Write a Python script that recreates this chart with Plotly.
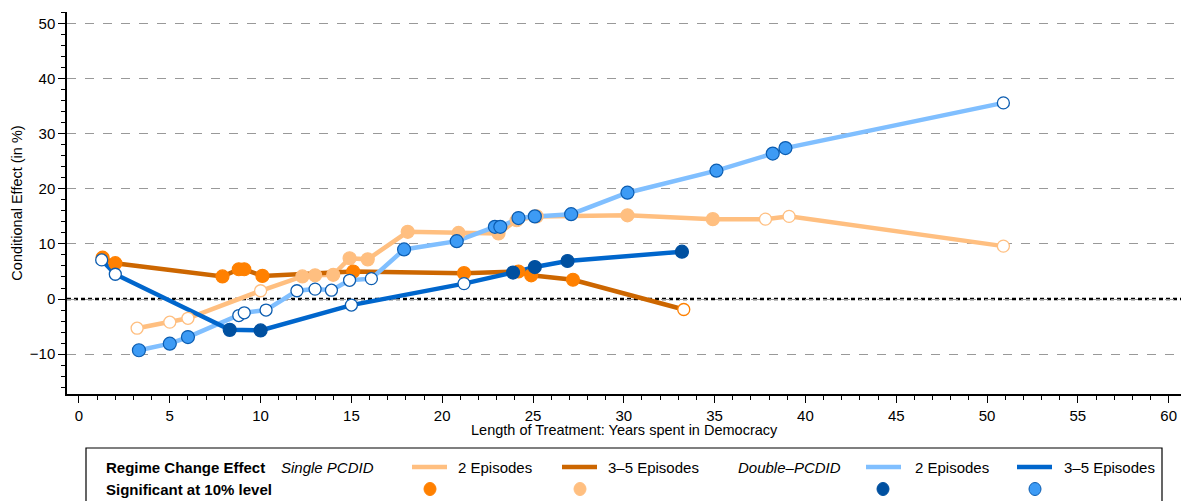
import plotly.graph_objects as go

# ---------------- data ----------------
# Single PCDID, 2 episodes
sp2_x = [3.2, 5.0, 6.0, 10.0, 12.3, 13.0, 14.0, 14.9, 15.9, 18.1, 20.9, 23.1, 24.1, 25.2, 30.2, 34.9, 37.8, 39.1, 50.9]
sp2_y = [-5.3, -4.2, -3.5, 1.5, 4.1, 4.3, 4.4, 7.4, 7.2, 12.2, 12.0, 11.9, 14.3, 15.0, 15.2, 14.5, 14.5, 15.0, 9.6]
sp2_sig = [0, 0, 0, 0, 1, 1, 1, 1, 1, 1, 1, 1, 1, 1, 1, 1, 0, 0, 0]

# Single PCDID, 3-5 episodes
sp35_x = [1.3, 2.0, 7.9, 8.8, 9.1, 10.1, 15.1, 21.2, 24.2, 24.9, 27.2, 33.3]
sp35_y = [7.5, 6.5, 4.1, 5.4, 5.4, 4.2, 5.0, 4.7, 5.0, 4.3, 3.5, -1.9]
sp35_sig = [1, 1, 1, 1, 1, 1, 1, 1, 1, 1, 1, 0]

# Double PCDID, 2 episodes
dp2_x = [3.3, 5.0, 6.0, 8.8, 9.1, 10.3, 12.0, 13.0, 13.9, 14.9, 16.1, 17.9, 20.8, 22.9, 23.2, 24.2, 25.1, 27.1, 30.2, 35.1, 38.2, 38.9, 50.9]
dp2_y = [-9.3, -8.1, -6.9, -3.0, -2.5, -2.0, 1.5, 1.8, 1.6, 3.4, 3.7, 9.0, 10.5, 13.1, 13.1, 14.7, 15.0, 15.4, 19.3, 23.3, 26.4, 27.4, 35.6]
dp2_sig = [1, 1, 1, 0, 0, 0, 0, 0, 0, 0, 0, 1, 1, 1, 1, 1, 1, 1, 1, 1, 1, 1, 0]

# Double PCDID, 3-5 episodes
dp35_x = [1.25, 2.0, 8.3, 10.0, 15.0, 21.2, 23.9, 25.1, 26.9, 33.2]
dp35_y = [7.1, 4.5, -5.6, -5.7, -1.1, 2.8, 4.8, 5.8, 6.9, 8.6]
dp35_sig = [0, 0, 1, 1, 0, 0, 1, 1, 1, 1]

x_ticks = list(range(0, 61, 5))
y_ticks = [-10, 0, 10, 20, 30, 40, 50]

# ---------------- styles ----------------
series = [
    dict(x=sp2_x, y=sp2_y, sig=sp2_sig, line="#FFBF80", fill="#FFBF80", edge="#FFBF80", open_edge="#FFBF80"),
    dict(x=sp35_x, y=sp35_y, sig=sp35_sig, line="#CC6600", fill="#FF8000", edge="#FF8000", open_edge="#FF8000"),
    dict(x=dp2_x, y=dp2_y, sig=dp2_sig, line="#80BFFF", fill="#3D9BF5", edge="#0B5CB0", open_edge="#0B5CB0"),
    dict(x=dp35_x, y=dp35_y, sig=dp35_sig, line="#0066CC", fill="#0050A0", edge="#0050A0", open_edge="#0B5CB0"),
]

fig = go.Figure()

for s in series:
    fig.add_trace(go.Scatter(x=s["x"], y=s["y"], mode="lines",
                             line=dict(color=s["line"], width=4.5),
                             showlegend=False, hoverinfo="skip"))

for s in series:
    xs = [xv for xv, g in zip(s["x"], s["sig"]) if g]
    ys = [yv for yv, g in zip(s["y"], s["sig"]) if g]
    xo = [xv for xv, g in zip(s["x"], s["sig"]) if not g]
    yo = [yv for yv, g in zip(s["y"], s["sig"]) if not g]
    fig.add_trace(go.Scatter(x=xo, y=yo, mode="markers",
                             marker=dict(size=12, color="white", line=dict(color=s["open_edge"], width=1.3)),
                             showlegend=False))
    fig.add_trace(go.Scatter(x=xs, y=ys, mode="markers",
                             marker=dict(size=13, color=s["fill"], line=dict(color=s["edge"], width=1.2)),
                             showlegend=False))

# zero reference line
fig.add_shape(type="line", xref="paper", x0=0, x1=1, yref="y", y0=0, y1=0,
              line=dict(color="black", width=2.7, dash="4px,3px"), layer="below")

FONT = "Liberation Sans, Arial, sans-serif"

fig.update_layout(
    width=1181, height=501,
    margin=dict(l=67, r=0, t=12, b=107),
    plot_bgcolor="white", paper_bgcolor="white",
    font=dict(family=FONT, color="black", size=15),
    xaxis=dict(range=[-0.66, 60.68], tickvals=x_ticks, ticks="outside", ticklen=7,
               tickcolor="black", showline=True, linecolor="black", linewidth=1.5,
               showgrid=False, zeroline=False, tickfont=dict(size=15), automargin=False,
               minor=dict(dtick=1, ticks="outside", ticklen=4, tickcolor="black")),
    yaxis=dict(range=[-17.24, 52.1], tickvals=y_ticks, ticks="outside", ticklen=7,
               tickcolor="black", showline=True, linecolor="black", linewidth=1.5,
               showgrid=True, gridcolor="#999999", griddash="dash", gridwidth=1,
               zeroline=False, tickfont=dict(size=15), automargin=False,
               minor=dict(dtick=2, ticks="outside", ticklen=4, tickcolor="black", showgrid=False),
               title=dict(text="Conditional Effect (in %)", font=dict(size=14.5), standoff=4)),
)

# ---------------- legend box (paper coords from pixel layout) ----------------
PL, PR, PT, PB = 67, 1181, 12, 394
def px(p):
    return (p - PL) / (PR - PL)
def py(p):
    return (PB - p) / (PB - PT)

# x-axis title
fig.add_annotation(xref="paper", yref="paper", x=px(624), y=py(430),
                   text="Length of Treatment: Years spent in Democracy", showarrow=False,
                   xanchor="center", yanchor="middle", font=dict(size=14.5, family=FONT))

fig.add_shape(type="rect", xref="paper", yref="paper",
              x0=px(86), x1=px(1162), y0=py(448), y1=py(520),
              line=dict(color="black", width=1.2), fillcolor="white", layer="above")

row1, row2 = 467, 489
texts = [
    (106, row1, "<b>Regime Change Effect</b>"),
    (281, row1, "<i>Single PCDID</i>"),
    (458, row1, "2 Episodes"),
    (608, row1, "3–5 Episodes"),
    (738, row1, "<i>Double–PCDID</i>"),
    (915, row1, "2 Episodes"),
    (1064, row1, "3–5 Episodes"),
    (106, row2, "<b>Significant at 10% level</b>"),
]
for xp, yp, t in texts:
    fig.add_annotation(xref="paper", yref="paper", x=px(xp), y=py(yp), text=t,
                       showarrow=False, xanchor="left", yanchor="middle", xshift=-2,
                       font=dict(size=15, family=FONT))

legend_lines = [(412, 447, "#FFBF80"), (562, 597, "#CC6600"), (866, 901, "#80BFFF"), (1017, 1052, "#0066CC")]
for x0, x1, c in legend_lines:
    fig.add_shape(type="line", xref="paper", yref="paper", x0=px(x0), x1=px(x1),
                  y0=py(row1), y1=py(row1), line=dict(color=c, width=4.5))

legend_dots = [(430, "#FF8000", "#FF8000"), (580, "#FFBF80", "#FFBF80"),
               (883, "#0050A0", "#0050A0"), (1035, "#3D9BF5", "#0B5CB0")]
rx, ry = 6, 6.5
for xc, fc, lc in legend_dots:
    fig.add_shape(type="circle", xref="paper", yref="paper",
                  x0=px(xc - rx), x1=px(xc + rx), y0=py(row2 + ry), y1=py(row2 - ry),
                  fillcolor=fc, line=dict(color=lc, width=1))

fig.write_html("out.html", config={"displayModeBar": False},
               post_script="document.body.style.margin='0';document.body.style.padding='0';document.body.style.overflow='hidden';")
